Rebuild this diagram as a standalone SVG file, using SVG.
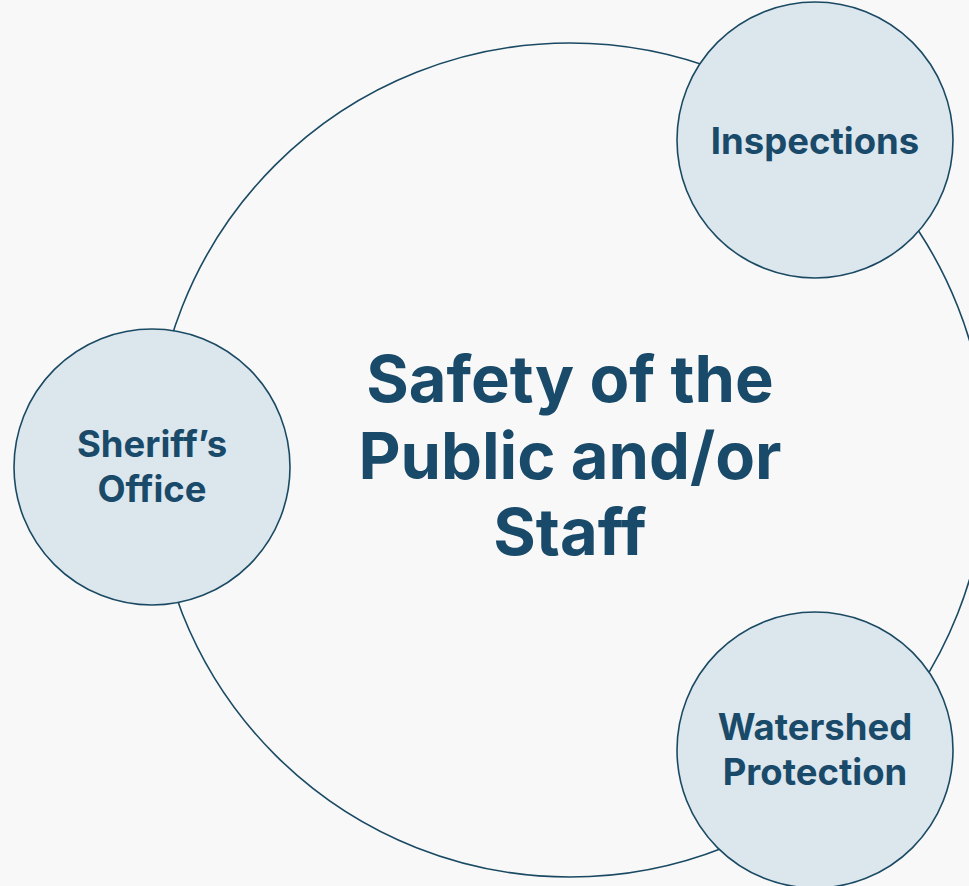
<svg xmlns="http://www.w3.org/2000/svg" width="969" height="886" viewBox="0 0 969 886">
<style>
.bg{fill:#f8f8f8}
.ring{fill:none;stroke:#1a4a63;stroke-width:1.6}
.node{fill:#dce6ed;stroke:#1a4a63;stroke-width:1.6}
.t{font-family:Inter,"Noto Sans",sans-serif;font-weight:700;fill:#1a4a69;text-anchor:middle}
.small{font-size:36.5px}
.big{font-size:65px}
</style>
<rect class="bg" x="0" y="0" width="969" height="886"/>
<g id="connectors">
<circle class="ring" cx="570" cy="460" r="417"/>
</g>
<g id="center">
<text class="t big" x="570" y="402">Safety of the</text>
<text class="t big" x="570" y="479">Public and/or</text>
<text class="t big" x="570" y="555">Staff</text>
</g>
<g id="inspections">
<circle class="node" cx="815" cy="140" r="138"/>
<text class="t small" x="815" y="154">Inspections</text>
</g>
<g id="sheriffs-office">
<circle class="node" cx="152" cy="467" r="138"/>
<text class="t small" x="152" y="457">Sheriff’s</text>
<text class="t small" x="152" y="502">Office</text>
</g>
<g id="watershed-protection">
<circle class="node" cx="815" cy="750" r="138"/>
<text class="t small" x="815" y="740">Watershed</text>
<text class="t small" x="815" y="785">Protection</text>
</g>
</svg>
